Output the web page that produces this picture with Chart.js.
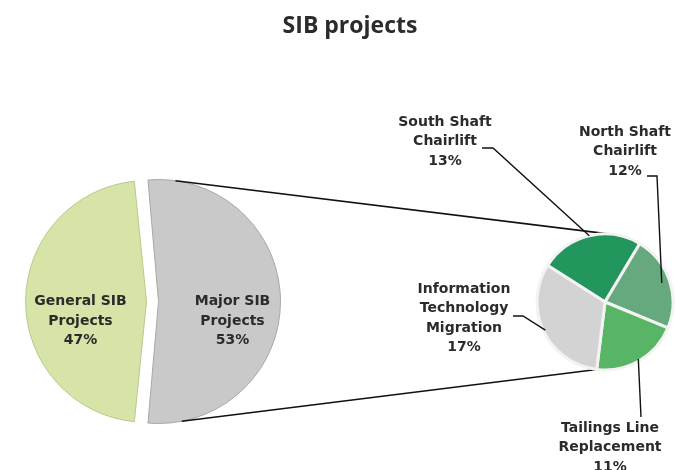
<!DOCTYPE html>
<html>
<head>
<meta charset="utf-8">
<title>SIB projects</title>
<script src="https://cdn.jsdelivr.net/npm/chart.js@4.4.1/dist/chart.umd.min.js"></script>
<style>
  html, body { margin: 0; padding: 0; background: #fff; overflow: hidden; }
  #wrap { position: relative; width: 675px; height: 470px; }
  #wrap canvas { position: absolute; left: 0; top: 0; }
</style>
</head>
<body>
<div id="wrap">
  <canvas id="mainPie" width="675" height="470"></canvas>
  <canvas id="subPie" width="675" height="470"></canvas>
</div>
<script>
// données
const chartTitle = 'SIB projects';
const mainLabels = [['General SIB', 'Projects'], ['Major SIB', 'Projects']];
const mainValues = [47, 53];
const subLabels = [
    ['South Shaft', 'Chairlift'],
    ['North Shaft', 'Chairlift'],
    ['Tailings Line', 'Replacement'],
    ['Information', 'Technology', 'Migration']
];
const subValues = [13, 12, 11, 17];

// mise en page
const LABEL_FONT = 'bold 14px "DejaVu Sans"';
const LINE_H = 19.5;
const TEXT_COLOR = '#2b2b2b';
const titlePos = { x: 350, y: 33 };
const mainLabelPos = [{ dx: -72, dy: 0 }, { dx: 80, dy: 0 }];
const subLabelPos = [
    { dx: -160, dy: -180, leader: [[-123, -154], [-112, -154]], r: 1.0 },
    { dx: 20, dy: -170, leader: [[42, -126], [52, -126]], r: 0.88 },
    { dx: 5, dy: 126, leader: [[36, 115]], r: 0.97 },
    { dx: -141, dy: -13, leader: [[-92, 14], [-82, 14]], r: 0.97 }
];

function drawLines(ctx, lines, x, y) {
    lines.forEach((t, i) => ctx.fillText(t, x, y + i * LINE_H));
}

const mainLabelPlugin = {
    id: 'mainLabels',
    afterDatasetsDraw(chart) {
        const ctx = chart.ctx;
        const meta = chart.getDatasetMeta(0);
        ctx.save();
        ctx.fillStyle = TEXT_COLOR;
        ctx.textAlign = 'center';
        ctx.font = 'bold 23px "Open Sans"';
        ctx.textBaseline = 'alphabetic';
        ctx.fillText(chartTitle, titlePos.x, titlePos.y);

        ctx.font = LABEL_FONT;
        ctx.textBaseline = 'middle';
        meta.data.forEach((arc, i) => {
            const p = mainLabelPos[i];
            drawLines(ctx, mainLabels[i].concat(mainValues[i] + '%'), arc.x + p.dx, arc.y + p.dy);
        });
        ctx.restore();
    }
};

// les deux parts sont décalées (offset) pour ouvrir un espace au milieu
const mainChart = new Chart(document.getElementById('mainPie'), {
    type: 'pie',
    data: {
        labels: mainLabels.map(l => l.join(' ')),
        datasets: [{
            data: mainValues,
            backgroundColor: ['#d6e4a7', '#c9c9c9'],
            borderColor: ['#b9c98c', '#a8a8a8'],
            borderWidth: 1,
            offset: 24,
            hoverOffset: 0
        }]
    },
    options: {
        responsive: false,
        animation: false,
        // la part "Major" centrée à droite
        rotation: 90 + 180 * mainValues[1] / (mainValues[0] + mainValues[1]),
        radius: 116,
        layout: { padding: { left: 0, right: 370, top: 133, bottom: 0 } },
        plugins: { legend: { display: false }, tooltip: { enabled: false } }
    },
    plugins: [mainLabelPlugin]
});

const subPlugin = {
    id: 'subLabels',
    beforeDatasetsDraw(chart) {
        // lignes de liaison entre la part "Major" et le petit camembert
        const big = mainChart.getDatasetMeta(0).data[1];
        const off = (big.options.offset || 0) / 4;
        const mid = (big.startAngle + big.endAngle) / 2;
        const bx = big.x + Math.cos(mid) * off;
        const by = big.y + Math.sin(mid) * off;
        const br = big.outerRadius + off;
        const small = chart.getDatasetMeta(0).data[0];
        const sr = small.outerRadius;
        const rad = d => d * Math.PI / 180;
        const ctx = chart.ctx;
        ctx.save();
        ctx.strokeStyle = '#111';
        ctx.lineWidth = 1.6;
        [[-82, -84], [79, 97]].forEach(([a1, a2]) => {
            ctx.beginPath();
            ctx.moveTo(bx + Math.cos(rad(a1)) * br, by + Math.sin(rad(a1)) * br);
            ctx.lineTo(small.x + Math.cos(rad(a2)) * sr, small.y + Math.sin(rad(a2)) * sr);
            ctx.stroke();
        });
        ctx.restore();
    },
    afterDatasetsDraw(chart) {
        const ctx = chart.ctx;
        const meta = chart.getDatasetMeta(0);
        ctx.save();
        ctx.strokeStyle = '#111';
        ctx.lineWidth = 1.4;
        meta.data.forEach((arc, i) => {
            const p = subLabelPos[i];
            const mid = (arc.startAngle + arc.endAngle) / 2;
            const r = arc.outerRadius * p.r;
            ctx.beginPath();
            p.leader.forEach(([lx, ly], k) => {
                if (k === 0) ctx.moveTo(arc.x + lx, arc.y + ly);
                else ctx.lineTo(arc.x + lx, arc.y + ly);
            });
            ctx.lineTo(arc.x + Math.cos(mid) * r, arc.y + Math.sin(mid) * r);
            ctx.stroke();
        });
        ctx.fillStyle = TEXT_COLOR;
        ctx.textAlign = 'center';
        ctx.textBaseline = 'middle';
        ctx.font = LABEL_FONT;
        meta.data.forEach((arc, i) => {
            const p = subLabelPos[i];
            drawLines(ctx, subLabels[i].concat(subValues[i] + '%'), arc.x + p.dx, arc.y + p.dy);
        });
        ctx.restore();
    }
};

new Chart(document.getElementById('subPie'), {
    type: 'pie',
    data: {
        labels: subLabels.map(l => l.join(' ')),
        datasets: [{
            data: subValues,
            backgroundColor: ['#23965e', '#67a97f', '#58b566', '#d3d3d3'],
            borderColor: '#f3f3f3',
            borderWidth: 3,
            hoverOffset: 0
        }]
    },
    options: {
        responsive: false,
        animation: false,
        rotation: -57.5,
        radius: 68,
        layout: { padding: { left: 535, right: 0, top: 134, bottom: 0 } },
        plugins: { legend: { display: false }, tooltip: { enabled: false } }
    },
    plugins: [subPlugin]
});
</script>
</body>
</html>
